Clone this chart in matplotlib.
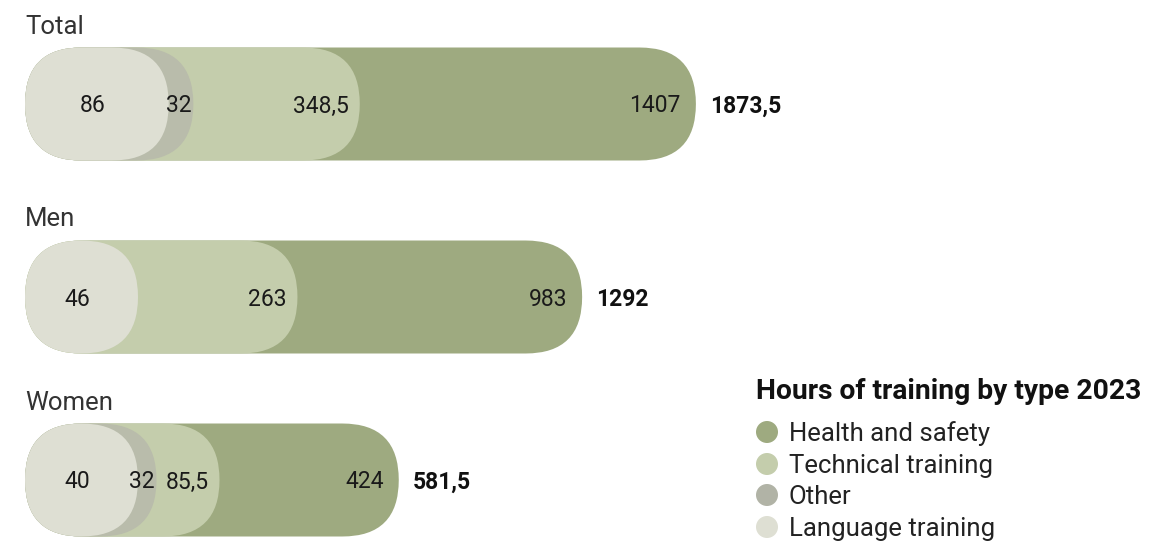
import numpy as np
import matplotlib.pyplot as plt
from matplotlib.patches import FancyBboxPatch, Circle

plt.rcParams['font.family'] = ['Roboto', 'DejaVu Sans']

# data
groups = ['Total', 'Men', 'Women']
health = [1407, 983, 424]
technical = [348.5, 263, 85.5]
other = [32, 0, 32]
language = [86, 46, 40]
series_names = ['Health and safety', 'Technical training', 'Other', 'Language training']
title = 'Hours of training by type 2023'

# style / layout
col_health = '#9eaa80'
col_tech = '#c4cdac'
col_other = '#b9bcab'
col_lang = '#dedfd3'
legend_cols = [col_health, col_tech, '#b1b3a6', col_lang]
row_y = [104, 297, 480]
x0 = 25
r = 56.5
scale = 15.5  # pill length ~ sqrt(hours)
fs_num = 16.5
fs_lab = 18.5


def pill_len(v):
    return max(2 * r, scale * np.sqrt(v))


def fmt(v):
    return f'{v:g}'.replace('.', ',')


def pill(ax, yc, length, color):
    p = FancyBboxPatch((x0, yc - r), length, 2 * r,
                       boxstyle=f'round,pad=0,rounding_size={r}',
                       fc=color, ec='none')
    ax.add_patch(p)


fig = plt.figure(figsize=(11.66, 5.42), dpi=100)
ax = fig.add_axes([0, 0, 1, 1])
ax.set_xlim(0, 1166)
ax.set_ylim(542, 0)
ax.axis('off')

for i, g in enumerate(groups):
    yc = row_y[i]
    c_lang = language[i]
    c_other = c_lang + other[i]
    c_tech = c_other + technical[i]
    c_tot = c_tech + health[i]

    L_tot = pill_len(c_tot)
    L_tech = pill_len(c_tech)
    L_other = pill_len(c_other)
    L_lang = pill_len(c_lang)

    pill(ax, yc, L_tot, col_health)
    pill(ax, yc, L_tech, col_tech)
    if other[i] > 0:
        pill(ax, yc, L_other, col_other)
    pill(ax, yc, L_lang, col_lang)

    base = yc + 8.5
    ax.text(x0 + L_tot - 15, base, fmt(health[i]), ha='right', va='baseline',
            fontsize=fs_num, color='#1a1a1a')
    ax.text(x0 + L_tech - 11, base, fmt(technical[i]), ha='right', va='baseline',
            fontsize=fs_num, color='#1a1a1a')
    if other[i] > 0:
        ax.text(x0 + L_other - 2, base, fmt(other[i]), ha='right', va='baseline',
                fontsize=fs_num, color='#1a1a1a')
    ax.text(x0 + L_lang / 2 - 4, base, fmt(language[i]), ha='center', va='baseline',
            fontsize=fs_num, color='#1a1a1a')
    ax.text(x0 + L_tot + 14, base, fmt(c_tot), ha='left', va='baseline',
            fontsize=fs_num, fontweight='bold', color='#111111')

    ax.text(x0, yc - r - 14, g, ha='left', va='baseline', fontsize=fs_lab,
            color='#333333')

# legend
ax.text(756, 399, title, ha='left', va='baseline', fontsize=20.3,
        fontweight='bold', color='#111111')
leg_y = [432, 464, 495, 527]
for name, col, ly in zip(series_names, legend_cols, leg_y):
    ax.add_patch(Circle((767, ly), 11, fc=col, ec='none'))
    ax.text(789, ly + 9, name, ha='left', va='baseline', fontsize=fs_lab,
            color='#222222')

fig.savefig('out.png', dpi=100)
